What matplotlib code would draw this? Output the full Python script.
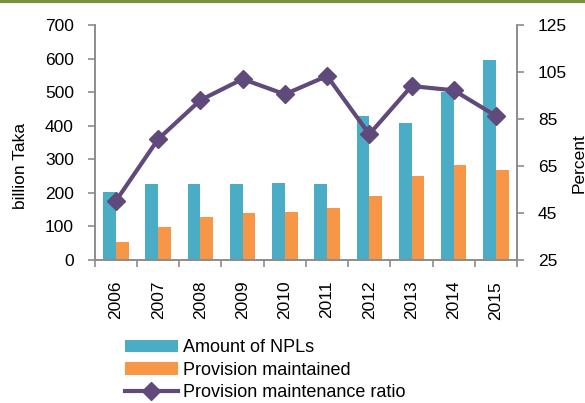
import numpy as np
import matplotlib.pyplot as plt
from matplotlib.lines import Line2D

plt.rcParams['font.family'] = ['Liberation Sans', 'DejaVu Sans']

# data
years = ['2006', '2007', '2008', '2009', '2010', '2011', '2012', '2013', '2014', '2015']
npl = [202, 226, 226, 226, 229, 226, 429, 408, 501, 596]
provision = [54, 98, 128, 140, 143, 155, 191, 250, 283, 268]
ratio = [50.1, 76.4, 93.0, 102.0, 95.5, 103.3, 78.5, 99.0, 97.2, 86.3]

teal = '#4BACC6'
orange = '#F79646'
purple = '#604A7B'
grey = '#8C8C8C'

fig = plt.figure(figsize=(5.85, 4.03), dpi=100)
ax = fig.add_axes([0.162, 0.355, 0.722, 0.583])

x = np.arange(len(years))
w = 0.3
ax.bar(x - w / 2, npl, w, color=teal, label='Amount of NPLs')
ax.bar(x + w / 2, provision, w, color=orange, label='Provision maintained')

ax.set_xlim(-0.5, len(years) - 0.5)
ax.set_ylim(0, 700)
ax.set_yticks(range(0, 701, 100))
ax.set_ylabel('billion Taka', fontsize=12.5)
ax.yaxis.set_label_coords(-0.159, 0.40)

ax.set_xticks(x)
ax.set_xticklabels(years, rotation=90, fontsize=12.5)
ax.tick_params(axis='x', length=0, pad=15)
ax.set_xticks(np.arange(-0.5, len(years)), minor=True)
ax.tick_params(axis='x', which='minor', length=5, color=grey, width=1.2)
ax.tick_params(axis='y', labelsize=12.5, length=5, pad=10, color=grey, width=1.2)

ax2 = ax.twinx()
ax2.plot(x, ratio, color=purple, lw=3, marker='D', ms=9, label='Provision maintenance ratio')
ax2.set_ylim(25, 125)
ax2.set_yticks(range(25, 126, 20))
ax2.tick_params(axis='y', labelsize=12.5, length=5, pad=10, color=grey, width=1.2)
ax2.set_ylabel('Percent', fontsize=12.5)
ax2.yaxis.set_label_coords(1.128, 0.413)

for a in (ax, ax2):
    a.spines['top'].set_visible(False)
    for s in ('left', 'right', 'bottom'):
        a.spines[s].set_color(grey)
        a.spines[s].set_linewidth(1.2)

# green rule at the top
fig.add_artist(Line2D([0, 1], [0.997, 0.997], color='#77933C', lw=3))

h1, l1 = ax.get_legend_handles_labels()
h2, l2 = ax2.get_legend_handles_labels()
fig.legend(h1 + h2, l1 + l2, loc='upper left', bbox_to_anchor=(0.214, 0.158),
           frameon=False, fontsize=13, handlelength=2.9, handletextpad=0.28,
           labelspacing=0.3, borderaxespad=0, borderpad=0)

fig.savefig('out.png', dpi=100)
